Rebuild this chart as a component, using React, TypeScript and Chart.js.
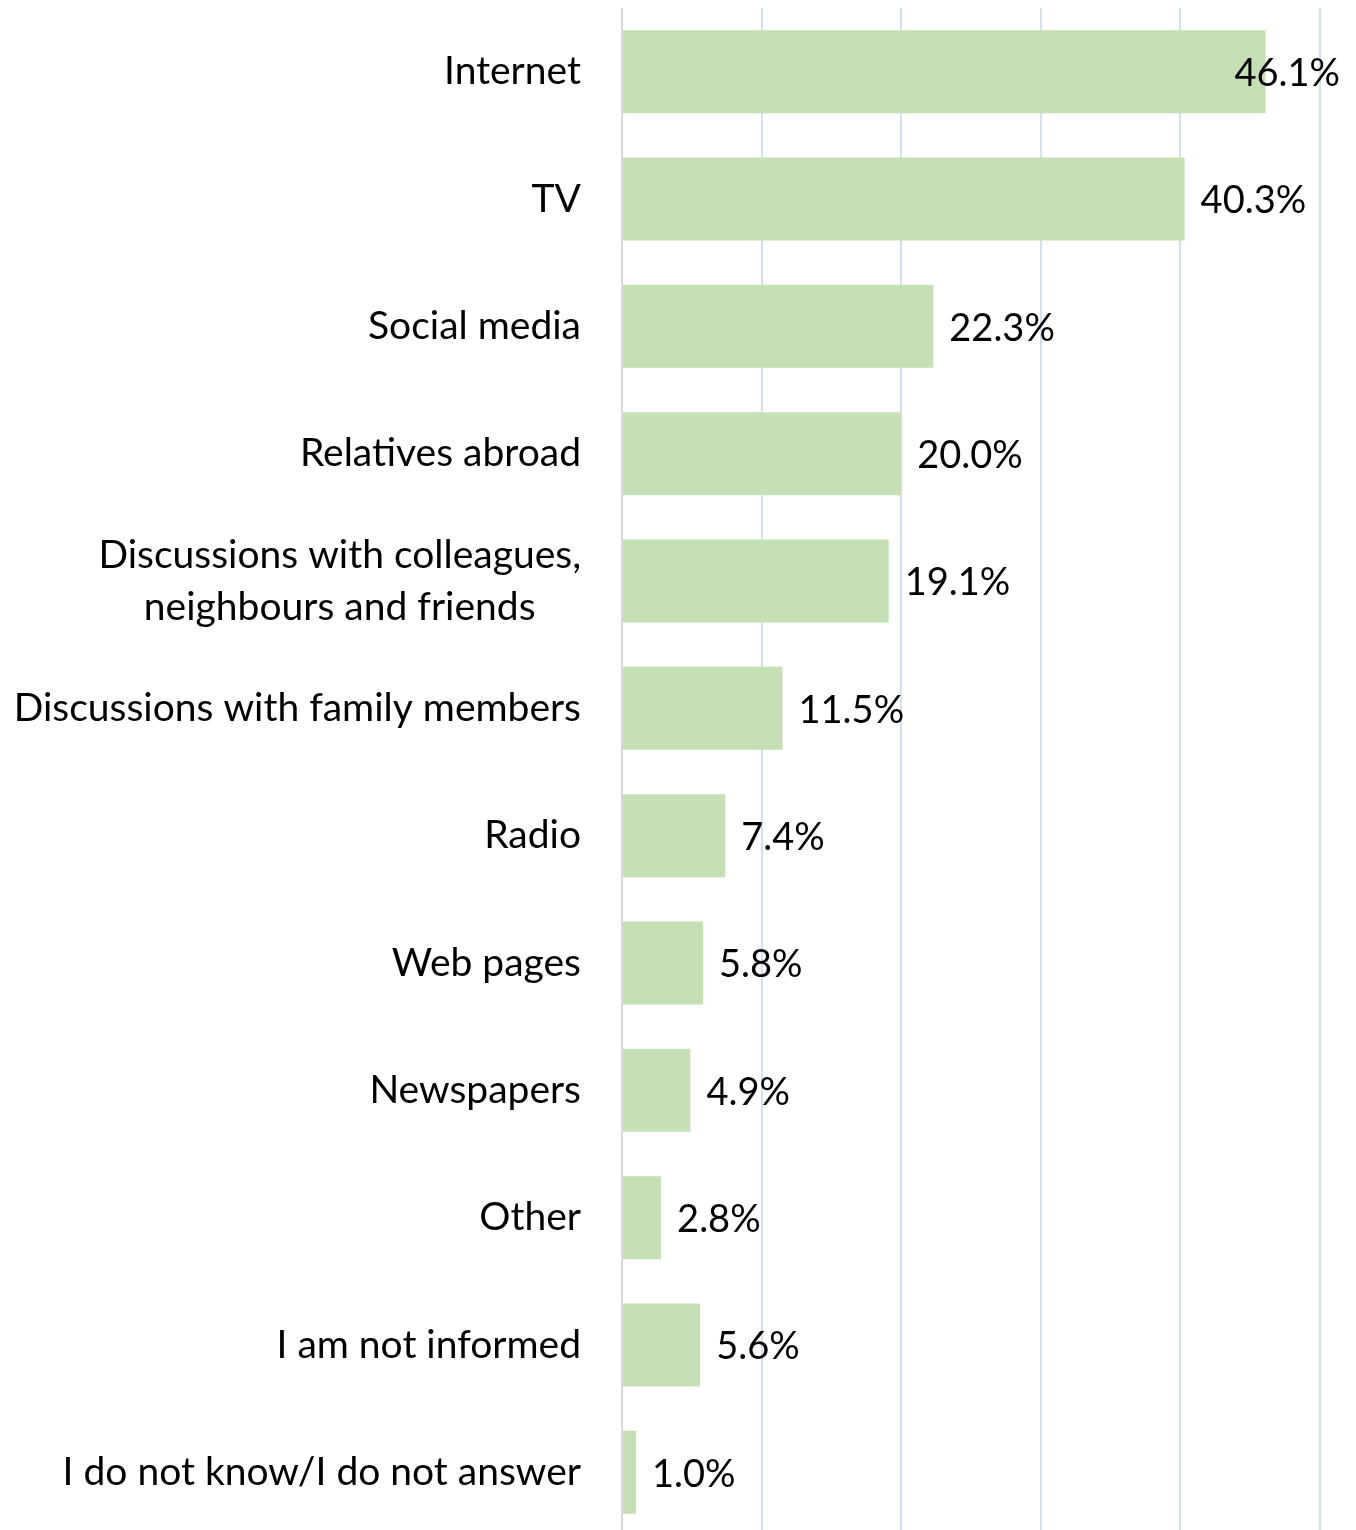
import React, { useEffect, useRef } from "react";
import { Chart, registerables } from "chart.js";

Chart.register(...registerables);

const categories: (string | string[])[] = [
  "Internet",
  "TV",
  "Social media",
  "Relatives abroad",
  ["Discussions with colleagues,", "neighbours and friends"],
  "Discussions with family members",
  "Radio",
  "Web pages",
  "Newspapers",
  "Other",
  "I am not informed",
  "I do not know/I do not answer",
];

const values: number[] = [46.1, 40.3, 22.3, 20.0, 19.1, 11.5, 7.4, 5.8, 4.9, 2.8, 5.6, 1.0];

const xTicks: number[] = [0, 10, 20, 30, 40, 50];

const FONT_FAMILY = "Lato, 'Open Sans', sans-serif";
const CAT_FONT_SIZE = 39;
const VAL_FONT_SIZE = 38;
const TEXT_COLOR = "#000000";
const BAR_COLOR = "#C5E0B4";

const labelsPlugin = {
  id: "customLabels",
  afterDatasetsDraw(chart: any) {
    const ctx = chart.ctx;
    ctx.save();
    ctx.fillStyle = TEXT_COLOR;
    ctx.textBaseline = "middle";
    // value labels
    ctx.font = `${VAL_FONT_SIZE}px ${FONT_FAMILY}`;
    const meta = chart.getDatasetMeta(0);
    meta.data.forEach((bar: any, i: number) => {
      const text = values[i].toFixed(1) + "%";
      const w = ctx.measureText(text).width;
      let x = bar.x + 16;
      if (x + w > chart.width - 8) x = chart.width - 8 - w;
      ctx.textAlign = "left";
      ctx.fillText(text, x, bar.y + 2);
    });
    // category labels
    ctx.font = `${CAT_FONT_SIZE}px ${FONT_FAMILY}`;
    const yScale = chart.scales.y;
    const rightX = 573;
    const lineH = 52;
    categories.forEach((cat, i) => {
      const y = yScale.getPixelForTick(i);
      const lines = Array.isArray(cat) ? cat : [cat];
      const widths = lines.map((l) => ctx.measureText(l).width);
      const blockW = Math.max(...widths);
      const cx = rightX - blockW / 2;
      lines.forEach((l, j) => {
        const ly = y + (j - (lines.length - 1) / 2) * lineH;
        if (lines.length > 1) {
          ctx.textAlign = "center";
          ctx.fillText(l, cx, ly);
        } else {
          ctx.textAlign = "right";
          ctx.fillText(l, rightX, ly);
        }
      });
    });
    ctx.restore();
  },
};

export default function App() {
  const ref = useRef<HTMLCanvasElement | null>(null);
  useEffect(() => {
    if (!ref.current) return;
    const chart = new Chart(ref.current, {
      type: "bar",
      data: {
        labels: categories.map((c) => (Array.isArray(c) ? c.join(" ") : c)),
        datasets: [
          {
            data: values,
            backgroundColor: BAR_COLOR,
            borderWidth: 0,
            categoryPercentage: 1,
            barPercentage: 0.652,
          },
        ],
      },
      options: {
        indexAxis: "y",
        animation: false,
        responsive: false,
        layout: { padding: { left: 0, right: 28, top: 0, bottom: 0 } },
        plugins: { legend: { display: false }, tooltip: { enabled: false } },
        scales: {
          x: {
            min: xTicks[0],
            max: xTicks[xTicks.length - 1],
            afterBuildTicks: (scale: any) => {
              scale.ticks = xTicks.map((v) => ({ value: v }));
            },
            ticks: { display: false },
            grid: { color: "#D6DFF0", lineWidth: 2, drawTicks: false },
            border: { display: false },
            afterFit: (scale: any) => {
              scale.height = 0;
            },
          },
          y: {
            ticks: { display: false },
            grid: { display: false, drawTicks: false },
            border: { display: true, color: "#D9D9D9", width: 2 },
            afterFit: (scale: any) => {
              scale.width = 614;
            },
          },
        },
      },
      plugins: [labelsPlugin],
    });
    return () => chart.destroy();
  }, []);
  return (
    <div style={{ width: 1340, height: 1528 }}>
      <canvas ref={ref} width={1340} height={1528} style={{ display: "block" }} />
    </div>
  );
}
